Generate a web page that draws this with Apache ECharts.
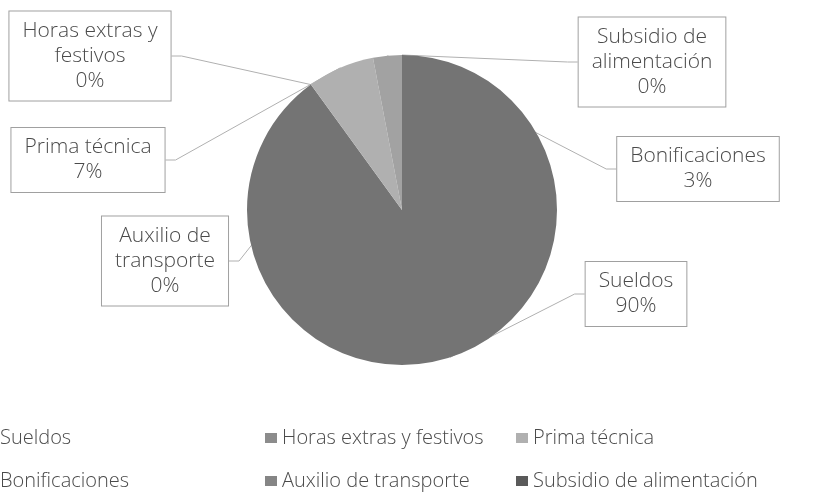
<!DOCTYPE html>
<html>
<head>
<meta charset="utf-8">
<script src="https://cdn.jsdelivr.net/npm/echarts@6/dist/echarts.min.js"></script>
<style>
  html, body { margin: 0; padding: 0; background: #fff; }
  #chart { width: 836px; height: 494px; }
</style>
</head>
<body>
<div id="chart"></div>
<script>
// conceptos de gasto (orden de la leyenda)
const categories = ['Sueldos', 'Horas extras y festivos', 'Prima técnica', 'Bonificaciones', 'Auxilio de transporte', 'Subsidio de alimentación']
const labelTexts = ['Sueldos', 'Horas extras y\nfestivos', 'Prima técnica', 'Bonificaciones', 'Auxilio de\ntransporte', 'Subsidio de\nalimentación']
const values = [90, 0, 7, 3, 0, 0]
const colors = ['#747474', '#8c8c8c', '#b0b0b0', '#a2a2a2', '#858585', '#5a5a5a']

// centro de cada recuadro de etiqueta
const labelSpots = [[636, 294], [90, 56], [88, 160], [698, 169], [165, 261], [652, 62]]

const chart = echarts.init(document.getElementById('chart'))

const font = '"Open Sans", Lato, sans-serif'

function legendCol (left, names) {
  return {
    orient: 'vertical',
    left: left,
    top: 426,
    height: 80,
    padding: 0,
    icon: 'rect',
    itemWidth: 12,
    itemHeight: 10,
    itemGap: 19,
    selectedMode: false,
    textStyle: { fontFamily: font, fontSize: 20, fontWeight: 300, color: '#4a4a4a', lineHeight: 24 },
    data: names
  }
}

const option = {
  animation: false,
  color: colors,
  legend: [
    legendCol(-17, [categories[0], categories[3]]),
    legendCol(265, [categories[1], categories[4]]),
    legendCol(516, [categories[2], categories[5]])
  ],
  series: [
    {
      type: 'pie',
      center: [402, 210],
      radius: 155,
      startAngle: 90,
      clockwise: true,
      avoidLabelOverlap: false,
      emphasis: { disabled: true },
      itemStyle: { borderColor: '#ffffff', borderWidth: 0 },
      label: {
        show: true,
        position: 'outside',
        formatter: p => labelTexts[p.dataIndex] + '\n' + p.percent.toFixed(0) + '%',
        fontFamily: font,
        fontSize: 21,
        fontWeight: 300,
        lineHeight: 25,
        color: '#4a4a4a',
        align: 'center',
        backgroundColor: '#ffffff',
        borderColor: '#a0a0a0',
        borderWidth: 1,
        padding: [7, 13, 7, 13]
      },
      labelLine: {
        show: true,
        length: 10,
        length2: 10,
        lineStyle: { color: '#b0b0b0', width: 1 }
      },
      labelLayout: params => {
        const s = labelSpots[params.dataIndex]
        return { x: s[0], y: s[1], align: 'center', verticalAlign: 'middle' }
      },
      data: categories.map((name, i) => ({ name: name, value: values[i] }))
    }
  ]
}

chart.setOption(option)
</script>
</body>
</html>
